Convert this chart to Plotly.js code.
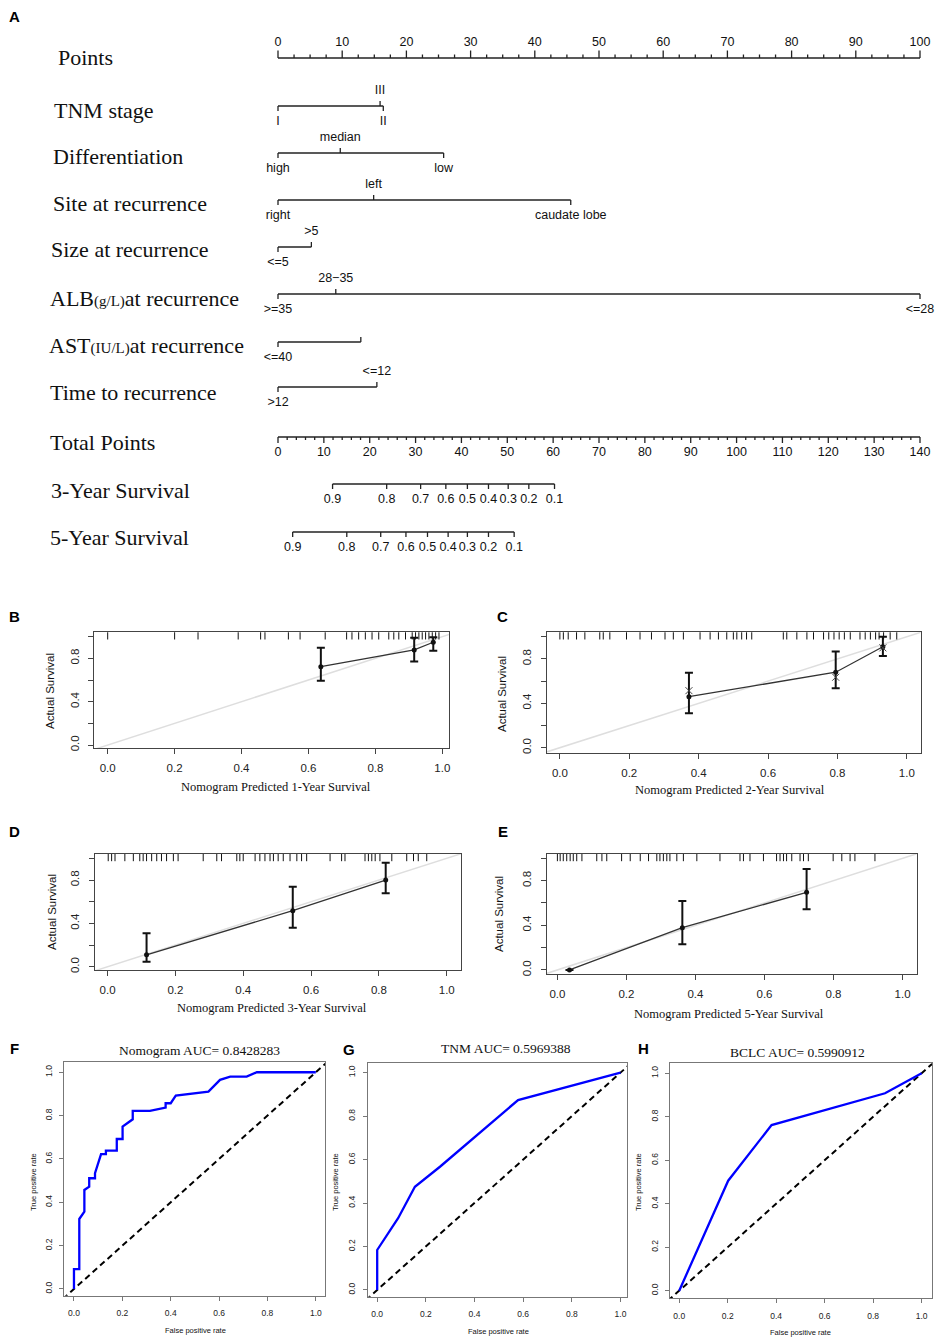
<!DOCTYPE html>
<html><head><meta charset="utf-8">
<script src="https://cdn.plot.ly/plotly-3.0.1.min.js"></script>
<style>html,body{margin:0;padding:0;background:#fff}#chart{width:940px;height:1339px}</style>
</head><body><div id="chart"></div>
<script>
const W = 940, H = 1339;
const SANS = 'Liberation Sans, Arial, sans-serif';
const SERIF = 'Liberation Serif, Times New Roman, serif';

// ---------------- Panel A: nomogram data ----------------
const pointsTicks = [0,10,20,30,40,50,60,70,80,90,100];
const tnmLabels = ['I','II','III'];                 const tnmPts = [0,16.4,15.9];
const diffLabels = ['high','median','low'];         const diffPts = [0,9.7,25.8];
const siteLabels = ['right','left','caudate lobe']; const sitePts = [0,14.9,45.6];
const sizeLabels = ['<=5','>5'];                    const sizePts = [0,5.2];
const albLabels = ['>=35','28\u221235','<=28'];     const albPts = [0,9.0,100];
const astLabels = ['<=40',''];                      const astPts = [0,12.9];
const timeLabels = ['>12','<=12'];                  const timePts = [0,15.4];
const totalPointsTicks = [0,10,20,30,40,50,60,70,80,90,100,110,120,130,140];
const totalPointsMax = 140;
const survLabels = ['0.9','0.8','0.7','0.6','0.5','0.4','0.3','0.2','0.1'];
const surv3TotalPts = [11.9,23.7,31.1,36.6,41.3,45.9,50.2,54.7,60.3];
const surv5TotalPts = [3.2,15.0,22.4,27.9,32.6,37.1,41.3,45.9,51.5];
const rowNames = ['Points','TNM stage','Differentiation','Site at recurrence','Size at recurrence',
  'ALB<span style="font-size:15px">(g/L)</span>at recurrence',
  'AST<span style="font-size:15px">(IU/L)</span>at recurrence',
  'Time to recurrence','Total Points','3-Year Survival','5-Year Survival'];

// ---------------- Panels B-E: calibration data ----------------
const calTicks = [0,0.2,0.4,0.6,0.8,1.0];
const calB_pred = [0.637,0.916,0.973], calB_obs = [0.723,0.877,0.948];
const calB_upper = [0.898,0.99,0.994], calB_lower = [0.594,0.77,0.87];
const rugB = [0.0,0.20,0.27,0.39,0.457,0.47,0.54,0.575,0.65,0.714,0.73,0.75,0.77,0.79,0.81,0.84,0.855,0.87,0.89,0.91,0.92,0.93,0.94,0.95,0.96,0.97,0.98,0.99];
const calC_pred = [0.372,0.795,0.931], calC_obs = [0.46,0.68,0.91];
const calC_upper = [0.676,0.866,1.0], calC_lower = [0.31,0.535,0.827];
const calC_corr = [0.514,0.635,0.9];
const rugC = [0.0,0.01,0.024,0.048,0.072,0.115,0.125,0.144,0.192,0.231,0.264,0.303,0.327,0.356,0.404,0.433,0.457,0.481,0.5,0.51,0.524,0.538,0.553,0.644,0.654,0.683,0.712,0.731,0.76,0.775,0.79,0.805,0.82,0.837,0.865,0.88,0.895,0.91,0.92,0.933,0.952,0.971];
const calD_pred = [0.115,0.546,0.82], calD_obs = [0.11,0.517,0.80];
const calD_upper = [0.31,0.739,0.96], calD_lower = [0.046,0.36,0.678];
const rugD = [0.002,0.012,0.022,0.051,0.076,0.095,0.105,0.115,0.13,0.145,0.159,0.174,0.194,0.208,0.282,0.322,0.336,0.381,0.39,0.4,0.435,0.449,0.464,0.479,0.489,0.503,0.518,0.538,0.558,0.572,0.587,0.656,0.69,0.7,0.759,0.769,0.779,0.789,0.803,0.838,0.882,0.902,0.916,0.941];
const calE_pred = [0.035,0.362,0.722], calE_obs = [0.0,0.379,0.696];
const calE_upper = [0.0,0.618,0.904], calE_lower = [0.0,0.23,0.543];
const rugE = [0.0,0.008,0.017,0.027,0.037,0.046,0.056,0.071,0.114,0.129,0.143,0.186,0.211,0.24,0.264,0.288,0.297,0.307,0.317,0.326,0.346,0.365,0.404,0.471,0.529,0.539,0.558,0.597,0.635,0.645,0.655,0.664,0.679,0.703,0.713,0.727,0.799,0.824,0.848,0.862,0.92];

// ---------------- Panels F-H: ROC data ----------------
const rocF_fpr = [0,0,0.022,0.022,0.043,0.043,0.063,0.063,0.087,0.087,0.112,0.132,0.132,0.177,0.177,0.201,0.201,0.243,0.243,0.314,0.379,0.379,0.4,0.421,0.556,0.604,0.646,0.714,0.756,1.0];
const rocF_tpr = [0,0.092,0.092,0.323,0.357,0.457,0.472,0.511,0.511,0.534,0.622,0.622,0.638,0.638,0.692,0.692,0.749,0.783,0.822,0.822,0.837,0.857,0.857,0.892,0.911,0.965,0.98,0.98,1.0,1.0];
const rocG_fpr = [0,0,0.086,0.155,0.258,0.579,1.0];
const rocG_tpr = [0,0.184,0.33,0.475,0.567,0.874,1.0];
const rocH_fpr = [0,0.202,0.381,0.849,1.0];
const rocH_tpr = [0,0.506,0.762,0.908,1.0];

// ================= build =================
const traces = [];
const annotations = [];
const layout = {width:W, height:H, margin:{l:0,r:0,t:0,b:0}, paper_bgcolor:'#fff',
  plot_bgcolor:'rgba(0,0,0,0)', showlegend:false, hovermode:false, annotations};

function ann(text, px, py, opts) {
  annotations.push(Object.assign({text, x:px/W, y:1-py/H, xref:'paper', yref:'paper',
    showarrow:false, xanchor:'center', yanchor:'middle'}, opts));
}

// ---- Panel A geometry (layout) ----
const A_X0 = 278, A_PX = 6.42, A_H = 575;
layout.xaxis = {domain:[0,1], range:[-A_X0/A_PX, (W-A_X0)/A_PX], visible:false, fixedrange:true};
layout.yaxis = {domain:[1-A_H/H,1], range:[A_H,0], visible:false, fixedrange:true};
const rowY = [58,106,153,200,247,294,342,387,437,484,532];
const rowNameX = [56,52,51,51,49,48,47,48,48,49,48];
const rowNameY = [58,111,157,203,250,298,345,392,442,490,537];
const LBL = 15.5;

const segX = [], segY = [];
function seg(x0,y0,x1,y1){ segX.push(x0,x1,null); segY.push(y0,y1,null); }
const lblX = [], lblY = [], lblT = [];
function lbl(x,y,t){ lblX.push(x); lblY.push(y); lblT.push(t); }

// Points axis
{
  const y = rowY[0];
  seg(0,y,100,y);
  for (let v=0; v<=100; v+=2.5) seg(v,y,v,y-(v%10===0?7.5:3.5));
  pointsTicks.forEach(v=>lbl(v,y-LBL,String(v)));
}
// Variable rows
function variableRow(pts, labels, r) {
  const y = rowY[r];
  seg(Math.min(...pts),y,Math.max(...pts),y);
  const order = pts.map((p,i)=>i).sort((a,b)=>pts[a]-pts[b]);
  order.forEach((i,k)=>{
    const up = k%2===1;
    seg(pts[i],y,pts[i],up?y-5:y+5);
    if (labels[i]) lbl(pts[i], up?y-LBL:y+LBL, labels[i]);
  });
}
variableRow(tnmPts,tnmLabels,1);
variableRow(diffPts,diffLabels,2);
variableRow(sitePts,siteLabels,3);
variableRow(sizePts,sizeLabels,4);
variableRow(albPts,albLabels,5);
variableRow(astPts,astLabels,6);
variableRow(timePts,timeLabels,7);
// Total points
const toX = tp => tp*100/totalPointsMax;
{
  const y = rowY[8];
  seg(0,y,100,y);
  for (let v=0; v<=totalPointsMax; v+=2) seg(toX(v),y,toX(v),y+(v%10===0?6:3));
  totalPointsTicks.forEach(v=>lbl(toX(v),y+LBL,String(v)));
}
function survRow(tps, r){
  const y = rowY[r];
  const xs = tps.map(toX);
  seg(Math.min(...xs),y,Math.max(...xs),y);
  xs.forEach((x,i)=>{ seg(x,y,x,y+5); lbl(x,y+LBL+0.5,survLabels[i]); });
}
survRow(surv3TotalPts,9);
survRow(surv5TotalPts,10);

traces.push({x:segX, y:segY, xaxis:'x', yaxis:'y', mode:'lines', line:{color:'#222', width:1.3}, hoverinfo:'skip'});
traces.push({x:lblX, y:lblY, text:lblT, xaxis:'x', yaxis:'y', mode:'text', textposition:'middle center',
  textfont:{family:SANS, size:12.5, color:'#111'}, cliponaxis:false, hoverinfo:'skip'});
rowNames.forEach((t,i)=>ann(t,rowNameX[i],rowNameY[i],{xanchor:'left', font:{family:SERIF,size:22,color:'#111'}}));

// ---- Panel letters ----
const letterFont = {family:SANS, size:15, color:'#000', weight:'bold'};
[['A',14,17],['B',14,616],['C',503,616],['D',14,831],['E',503,832],['F',14,1048],['G',349,1049],['H',643,1048]]
  .forEach(l=>ann('<b>'+l[0]+'</b>', l[1], l[2], {font:letterFont}));

// ---- Sub-panel axes ----
function axes(n, box, xr, yr, o) {
  const [l,r,t,b] = box;
  const common = {showline:true, mirror:true, linecolor:o.lc, linewidth:1, ticks:'outside',
    ticklen:o.tl, tickwidth:1, tickcolor:o.lc, showgrid:false, zeroline:false, fixedrange:true,
    tickvals:calTicks, tickfont:{family:SANS, size:o.fs, color:'#222'}};
  layout['xaxis'+n] = Object.assign({}, common, {domain:[l/W, r/W], range:xr, anchor:'y'+n,
    ticktext:calTicks.map(v=>v.toFixed(1)), ticklabelstandoff:o.sx});
  layout['yaxis'+n] = Object.assign({}, common, {domain:[1-b/H, 1-t/H], range:yr, anchor:'x'+n,
    ticktext:o.yt, tickangle:-90, ticklabelstandoff:o.sy});
}
const calOpt = {lc:'#444', tl:5, fs:11.5, sx:4, sy:5, yt:['0.0','','0.4','','0.8','']};
const rocOpt = {lc:'#777', tl:4, fs:8.5, sx:5, sy:4, yt:calTicks.map(v=>v.toFixed(1))};

const panels = {
  B:{n:2, box:[94.3,449,632.3,748.3],   xr:[-0.04,1.02],  yr:[-0.03,1.04]},
  C:{n:3, box:[546.7,920.7,632.3,752.7], xr:[-0.038,1.04], yr:[-0.045,1.04]},
  D:{n:4, box:[95,461,854,970],          xr:[-0.037,1.042],yr:[-0.03,1.04]},
  E:{n:5, box:[546.7,916.7,854,974.3],   xr:[-0.031,1.041],yr:[-0.039,1.039]},
  F:{n:6, box:[64.3,325,1062.3,1295.7],  xr:[-0.04,1.038], yr:[-0.031,1.046]},
  G:{n:7, box:[367.7,627.3,1063.3,1296.7],xr:[-0.039,1.028],yr:[-0.031,1.043]},
  H:{n:8, box:[670,932.3,1063.3,1298.3], xr:[-0.038,1.044],yr:[-0.035,1.046]}
};

function calPanel(p, pred, obs, upper, lower, rug, corr, xTitle, xtPos, ytPos) {
  const P = panels[p];
  axes(P.n, P.box, P.xr, P.yr, calOpt);
  const xa='x'+P.n, ya='y'+P.n;
  const pxPerY = (P.box[3]-P.box[2])/(P.yr[1]-P.yr[0]);
  const rugY = P.yr[1] - 3/pxPerY;
  traces.push({x:[-0.2,1.2], y:[-0.2,1.2], xaxis:xa, yaxis:ya, mode:'lines', line:{color:'#dedede', width:1.5}, hoverinfo:'skip'});
  traces.push({x:rug, y:rug.map(()=>rugY), xaxis:xa, yaxis:ya, mode:'markers',
    marker:{symbol:'line-ns', size:6, color:'#111', line:{width:1, color:'#111'}}, hoverinfo:'skip'});
  traces.push({x:pred, y:obs, xaxis:xa, yaxis:ya, mode:'lines+markers',
    line:{color:'#333', width:1.3}, marker:{size:5, color:'#111'},
    error_y:{type:'data', symmetric:false, array:upper.map((u,i)=>u-obs[i]),
      arrayminus:lower.map((v,i)=>obs[i]-v), color:'#111', thickness:2, width:4}, hoverinfo:'skip'});
  if (corr) traces.push({x:pred, y:corr, xaxis:xa, yaxis:ya, mode:'markers',
    marker:{symbol:'x-thin', size:7, line:{width:1, color:'#444'}}, hoverinfo:'skip'});
  ann(xTitle, xtPos[0], xtPos[1], {font:{family:SERIF, size:12.5, color:'#111'}});
  ann('Actual Survival', ytPos[0], ytPos[1], {textangle:-90, font:{family:SANS, size:11.5, color:'#111'}});
}
calPanel('B', calB_pred, calB_obs, calB_upper, calB_lower, rugB, null, 'Nomogram Predicted 1-Year Survival', [276,787], [50,691]);
calPanel('C', calC_pred, calC_obs, calC_upper, calC_lower, rugC, calC_corr, 'Nomogram Predicted 2-Year Survival', [730,790], [502,694]);
calPanel('D', calD_pred, calD_obs, calD_upper, calD_lower, rugD, null, 'Nomogram Predicted 3-Year Survival', [272,1008], [52,912]);
calPanel('E', calE_pred, calE_obs, calE_upper, calE_lower, rugE, null, 'Nomogram Predicted 5-Year Survival', [729,1014], [499,914]);

function rocPanel(p, fpr, tpr, title, tPos, xtPos, ytPos) {
  const P = panels[p];
  axes(P.n, P.box, P.xr, P.yr, rocOpt);
  const xa='x'+P.n, ya='y'+P.n;
  traces.push({x:[-0.2,1.2], y:[-0.2,1.2], xaxis:xa, yaxis:ya, mode:'lines', line:{color:'#000', width:2, dash:'6px,4px'}, hoverinfo:'skip'});
  traces.push({x:fpr, y:tpr, xaxis:xa, yaxis:ya, mode:'lines', line:{color:'#0000ff', width:2.3}, hoverinfo:'skip'});
  ann(title, tPos[0], tPos[1], {font:{family:SERIF, size:13.5, color:'#111'}});
  ann('False positive rate', xtPos[0], xtPos[1], {font:{family:SANS, size:7.5, color:'#111'}});
  ann('True positive rate', ytPos[0], ytPos[1], {textangle:-90, font:{family:SANS, size:7.5, color:'#111'}});
}
rocPanel('F', rocF_fpr, rocF_tpr, 'Nomogram AUC= 0.8428283', [199,1050], [195,1330], [33,1182]);
rocPanel('G', rocG_fpr, rocG_tpr, 'TNM AUC= 0.5969388', [506,1048], [498,1331], [335,1182]);
rocPanel('H', rocH_fpr, rocH_tpr, 'BCLC AUC= 0.5990912', [797,1052], [800,1332], [638,1182]);

Plotly.newPlot('chart', traces, layout, {staticPlot:true, displayModeBar:false});
</script>
</body></html>
